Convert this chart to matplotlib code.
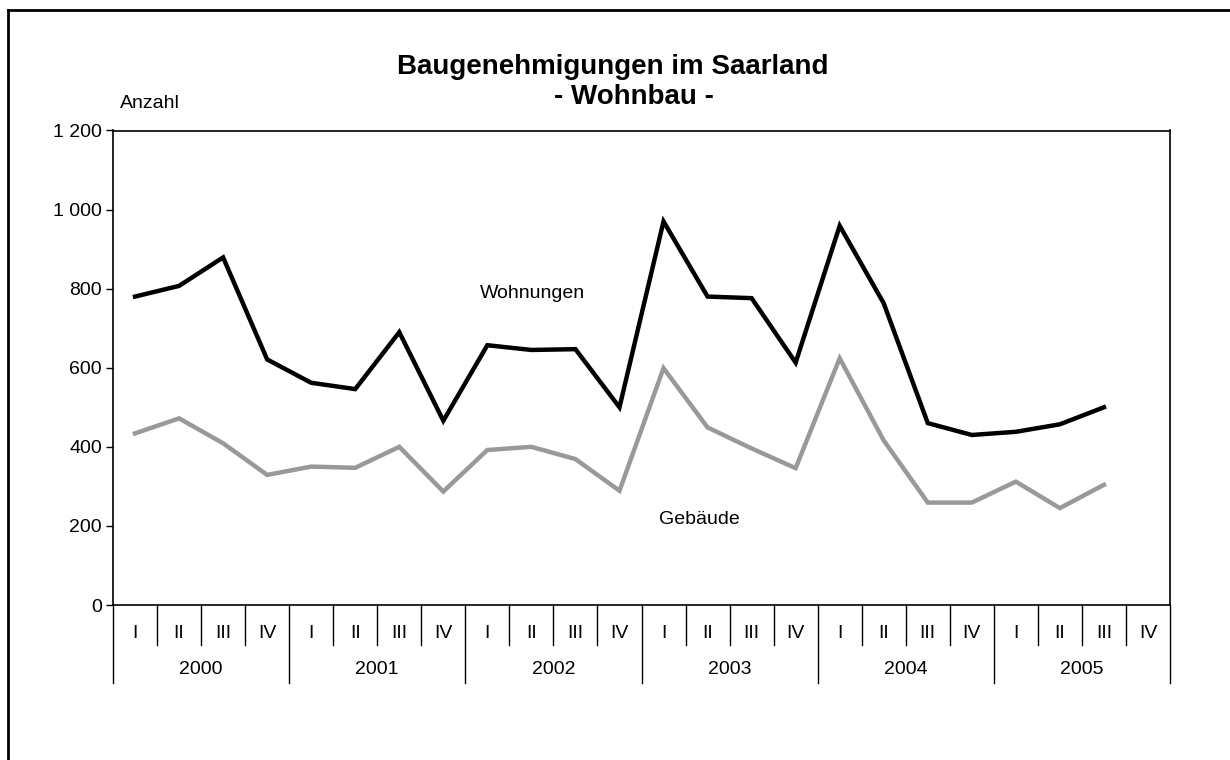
import matplotlib.pyplot as plt
from matplotlib.lines import Line2D

plt.rcParams['font.family'] = ['Liberation Sans', 'DejaVu Sans']

# Baugenehmigungen im Saarland, Wohnbau, je Quartal 2000-2005
years = ["2000", "2001", "2002", "2003", "2004", "2005"]
quarters = ["I", "II", "III", "IV"]
wohnungen = [780, 807, 879, 621, 562, 546, 690, 466,
             657, 645, 647, 500, 970, 780, 776, 613,
             959, 763, 460, 430, 438, 457, 500]
gebaeude = [434, 472, 409, 329, 350, 347, 400, 287,
            392, 400, 369, 289, 599, 449, 396, 346,
            624, 416, 259, 259, 312, 245, 304]

n = len(years) * len(quarters)
fs = 14

fig = plt.figure(figsize=(12.3, 7.6), dpi=100)
ax = fig.add_axes([113 / 1230, 1 - 605 / 760, (1170 - 113) / 1230, (605 - 130.5) / 760])

x = list(range(len(wohnungen)))
ax.plot(x, wohnungen, color="black", lw=3.2, solid_joinstyle="miter")
ax.plot(x, gebaeude, color="#999999", lw=3.2, solid_joinstyle="miter")

ax.set_xlim(-0.5, n - 0.5)
ax.set_ylim(0, 1200)
ax.set_yticks(range(0, 1201, 200))
ax.set_yticklabels([f"{v:,}".replace(",", " ") for v in range(0, 1201, 200)])
ax.tick_params(axis="y", direction="out", length=5, width=1, labelsize=fs, pad=3)
ax.set_xticks([])
for s in ax.spines.values():
    s.set_linewidth(1.2)

# category axis: quarter and year rows
tr = ax.get_xaxis_transform()
ph = 605 - 130.5
for i in range(n + 1):
    low = -(683 - 605) / ph if i % 4 == 0 else -(645 - 605) / ph
    ax.add_line(Line2D([i - 0.5, i - 0.5], [0, low], transform=tr, color="black",
                       lw=1, clip_on=False))
for i in range(n):
    ax.text(i, -(633 - 605) / ph, quarters[i % 4], transform=tr, ha="center",
            va="center", fontsize=fs)
for j, y in enumerate(years):
    ax.text(j * 4 + 1.5, -(669 - 605) / ph, y, transform=tr, ha="center",
            va="center", fontsize=fs)

fig.text(480 / 1230, 1 - 294 / 760, "Wohnungen", ha="left", va="center", fontsize=fs)
fig.text(659 / 1230, 1 - 520 / 760, "Gebäude", ha="left", va="center", fontsize=fs)
fig.text(120 / 1230, 1 - 104 / 760, "Anzahl", ha="left", va="center", fontsize=fs)

fig.text(613 / 1230, 1 - 67 / 760, "Baugenehmigungen im Saarland", ha="center",
         va="center", fontsize=20, fontweight="bold")
fig.text(634 / 1230, 1 - 97 / 760, "- Wohnbau -", ha="center", va="center",
         fontsize=20, fontweight="bold")

# outer frame
fig.add_artist(Line2D([8 / 1230, 8 / 1230], [0, 1 - 10 / 760], transform=fig.transFigure,
                      color="black", lw=2))
fig.add_artist(Line2D([8 / 1230, 1], [1 - 10 / 760, 1 - 10 / 760], transform=fig.transFigure,
                      color="black", lw=2))

fig.savefig("out.png", dpi=100)
